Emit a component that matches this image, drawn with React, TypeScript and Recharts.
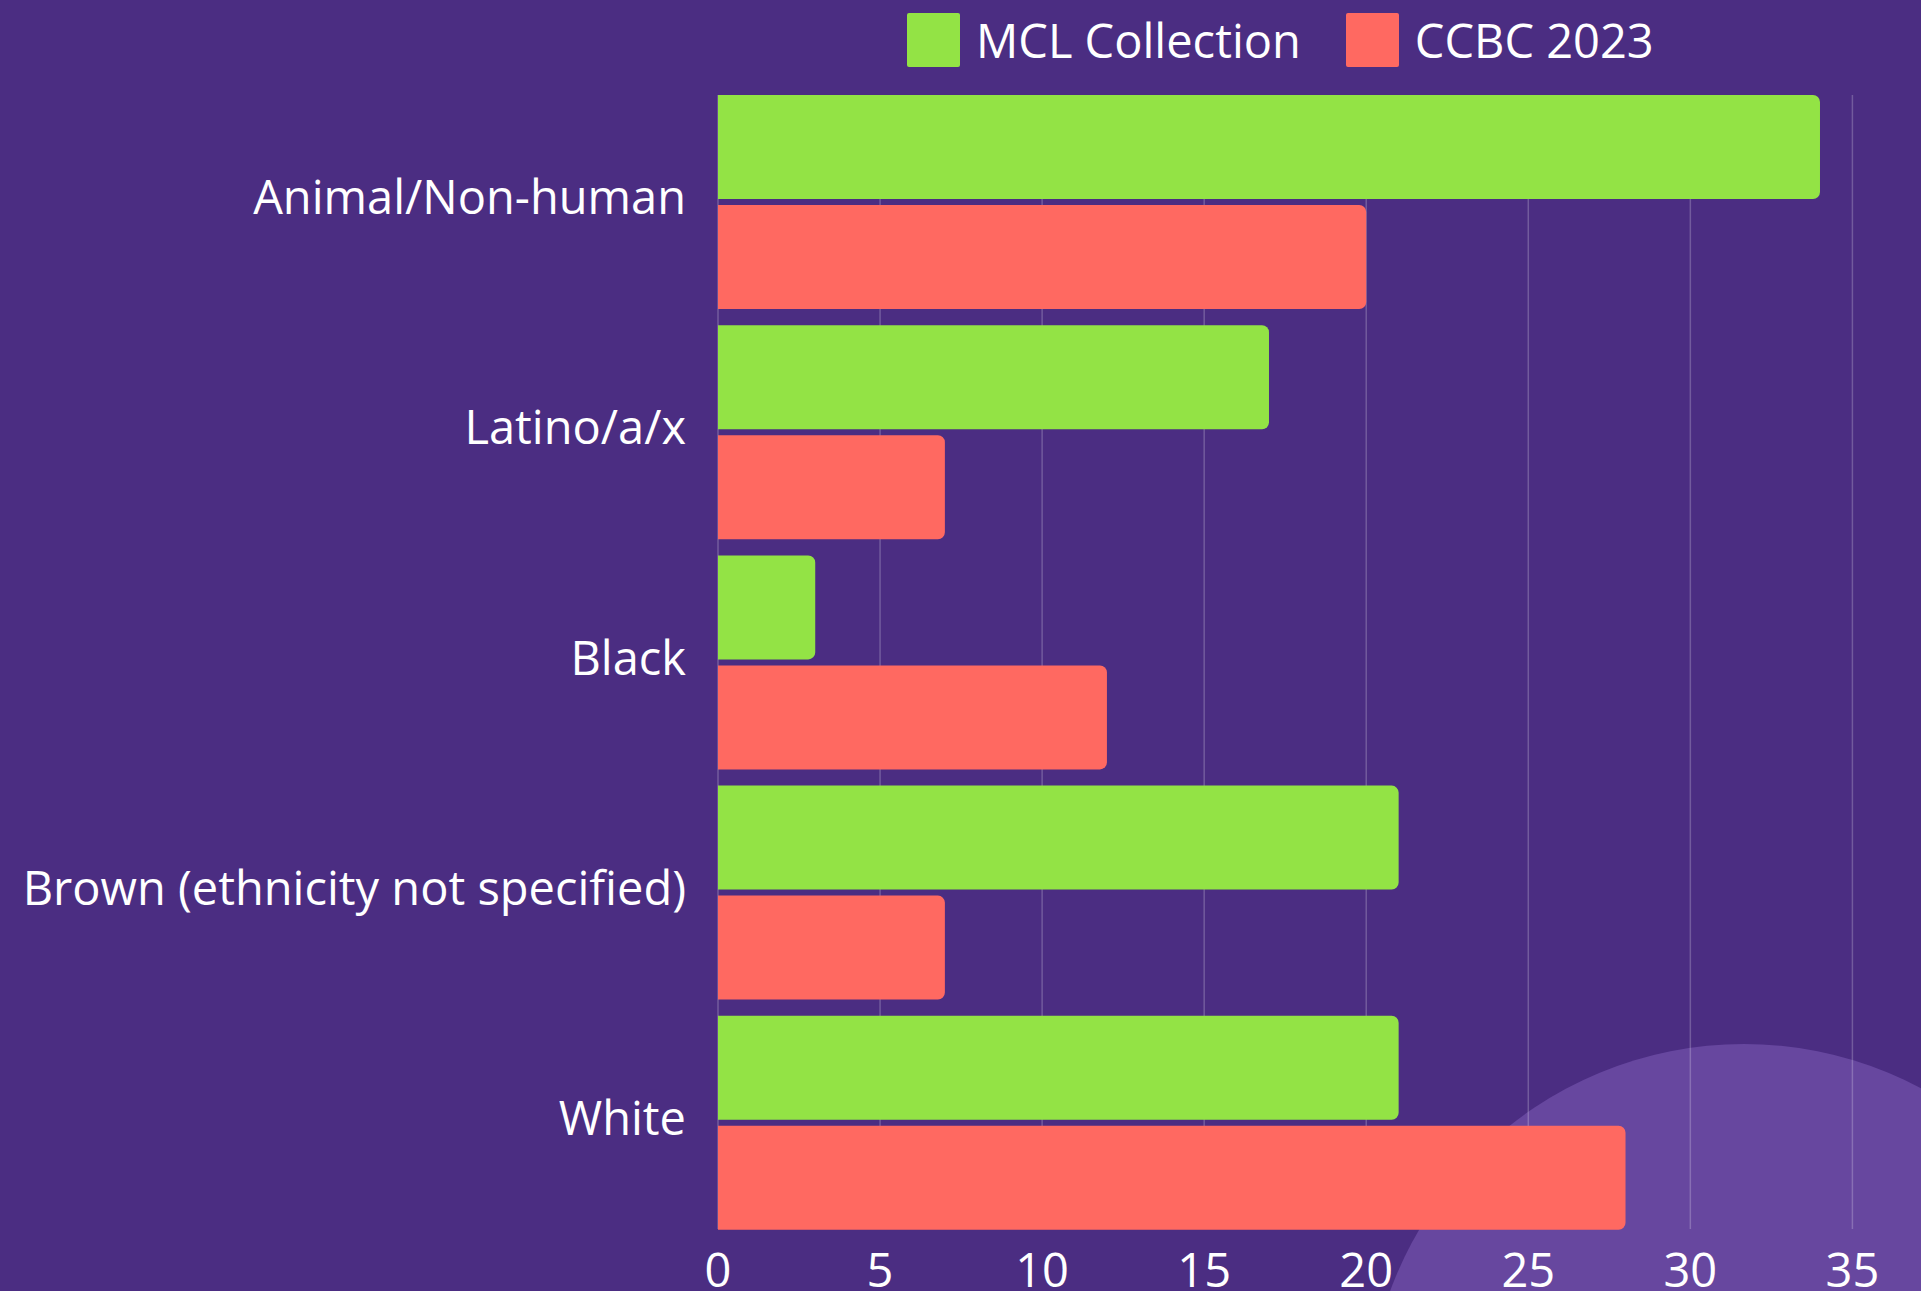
import { Bar, BarChart, CartesianGrid, XAxis, YAxis } from 'recharts';

const categories = [
  'Animal/Non-human',
  'Latino/a/x',
  'Black',
  'Brown (ethnicity not specified)',
  'White',
];
const mclCollection = [34, 17, 3, 21, 21];
const ccbc2023 = [20, 7, 12, 7, 28];
const xTicks = [0, 5, 10, 15, 20, 25, 30, 35];

const series = [
  { key: 'mcl', name: 'MCL Collection', color: '#93E345' },
  { key: 'ccbc', name: 'CCBC 2023', color: '#FF6961' },
];

const data = categories.map((name, i) => ({
  name,
  mcl: mclCollection[i],
  ccbc: ccbc2023[i],
}));

const FONT = '"Open Sans", "Noto Sans", sans-serif';
const BG = '#4B2D82';
const TEXT_SIZE = 47;

export default function App() {
  return (
    <div
      style={{
        position: 'absolute',
        left: 0,
        top: 0,
        width: 1921,
        height: 1291,
        overflow: 'hidden',
        background: BG,
        fontFamily: FONT,
      }}
    >
      {/* soft backdrop blob in the lower right */}
      <div
        style={{
          position: 'absolute',
          left: 1744 - 377,
          top: 1421 - 377,
          width: 754,
          height: 754,
          borderRadius: '50%',
          background: '#67479F',
        }}
      />

      <div
        style={{
          position: 'absolute',
          left: 907,
          top: 13,
          display: 'flex',
          alignItems: 'center',
          gap: 45,
          color: '#fff',
          fontSize: TEXT_SIZE,
          lineHeight: '54px',
        }}
      >
        {series.map((s) => (
          <div key={s.key} style={{ display: 'flex', alignItems: 'center' }}>
            <span
              style={{
                display: 'inline-block',
                width: 53,
                height: 54,
                borderRadius: 2,
                background: s.color,
                marginRight: 16,
              }}
            />
            <span>{s.name}</span>
          </div>
        ))}
      </div>

      <div style={{ position: 'absolute', left: 0, top: 0 }}>
        <BarChart
          width={1921}
          height={1291}
          data={data}
          layout="vertical"
          margin={{ top: 86.5, right: 68.6, left: 0, bottom: 3.5 }}
          barCategoryGap={8.5}
          barGap={6}
          style={{ fontFamily: FONT }}
        >
          <CartesianGrid
            horizontal={false}
            stroke="#ffffff"
            strokeOpacity={0.22}
            strokeWidth={1.5}
            y={95}
            height={1134}
          />
          <XAxis
            type="number"
            domain={[0, 35]}
            ticks={xTicks}
            axisLine={false}
            tickLine={false}
            tickSize={0}
            tickMargin={16}
            height={50}
            tick={{ fill: '#ffffff', fontSize: TEXT_SIZE }}
          />
          <YAxis
            type="category"
            dataKey="name"
            width={718}
            axisLine={false}
            tickLine={false}
            tickSize={0}
            tickMargin={32}
            tick={{ fill: '#ffffff', fontSize: TEXT_SIZE, dy: -4 }}
          />
          {series.map((s) => (
            <Bar
              key={s.key}
              dataKey={s.key}
              name={s.name}
              fill={s.color}
              radius={[0, 7, 7, 0]}
              isAnimationActive={false}
            />
          ))}
        </BarChart>
      </div>
    </div>
  );
}
